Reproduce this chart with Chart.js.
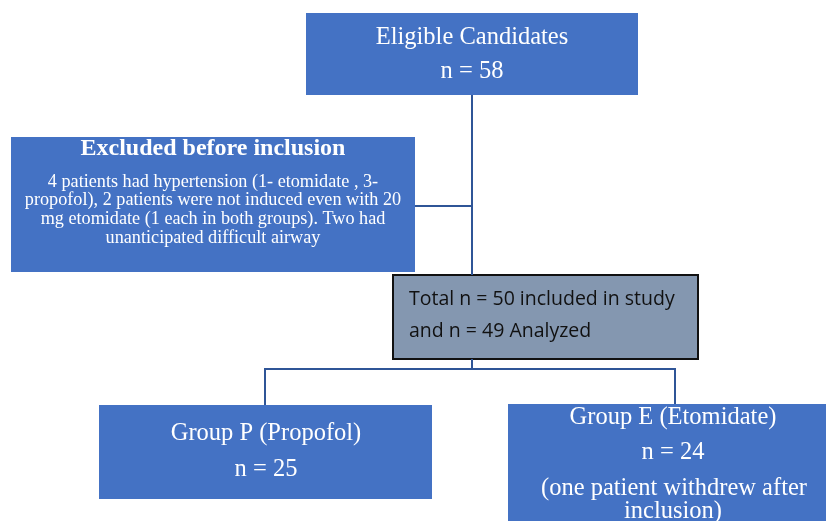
<!DOCTYPE html>
<html>
<head>
<meta charset="utf-8">
<script src="https://cdn.jsdelivr.net/npm/chart.js@4"></script>
<style>
  html, body { margin: 0; padding: 0; background: #fff; }
  #wrap { width: 826px; height: 521px; position: relative; }
</style>
</head>
<body>
<div id="wrap"><canvas id="flow"></canvas></div>
<script>
// node texts
const nodeTitles = ["Eligible Candidates", "Excluded before inclusion", "Total n = 50 included in study", "Group P (Propofol)", "Group E (Etomidate)"]
const nodeLines = [
  ["n = 58"],
  ["4 patients had hypertension (1- etomidate , 3-", "propofol), 2 patients were not induced even with 20", "mg etomidate (1 each in both groups). Two had", "unanticipated difficult airway"],
  ["and n = 49 Analyzed"],
  ["n = 25"],
  ["n = 24", "(one patient withdrew after", "inclusion)"]
]

// node layout in diagram units (left, top, right, bottom)
const nodeBoxes = [
  [306, 13, 638, 95],
  [11, 137, 415, 272],
  [393, 275, 698, 359],
  [99, 405, 432, 499],
  [508, 404, 840, 540]
]

// connectors as polylines
const links = [
  [{x: 472, y: 95}, {x: 472, y: 275}],
  [{x: 415, y: 206}, {x: 472, y: 206}],
  [{x: 472, y: 359}, {x: 472, y: 369}],
  [{x: 265, y: 405}, {x: 265, y: 369}, {x: 675, y: 369}, {x: 675, y: 404}]
]

const blue = "#4472C4"
const grey = "#8497B0"
const linkColor = "#2F5597"

const boxesPlugin = {
  id: "boxes",
  beforeDatasetsDraw(chart) {
    const { ctx, scales: { x, y } } = chart
    ctx.save()
    nodeBoxes.forEach((b, i) => {
      const l = x.getPixelForValue(b[0]), t = y.getPixelForValue(b[1])
      const r = x.getPixelForValue(b[2]), btm = y.getPixelForValue(b[3])
      ctx.fillStyle = i === 2 ? grey : blue
      ctx.fillRect(l, t, r - l, btm - t)
      if (i === 2) {
        ctx.strokeStyle = "#111"
        ctx.lineWidth = 2
        ctx.strokeRect(l, t, r - l, btm - t)
      }
    })
    ctx.restore()
  },
  afterDatasetsDraw(chart) {
    const { ctx, scales: { x, y } } = chart
    ctx.save()
    ctx.textBaseline = "middle"
    const px = v => x.getPixelForValue(v)
    const py = v => y.getPixelForValue(v)
    const serif = "'Liberation Serif', 'Times New Roman', serif"

    // Eligible
    ctx.fillStyle = "#fff"
    ctx.textAlign = "center"
    ctx.font = "24.5px " + serif
    ctx.fillText(nodeTitles[0], px(472), py(38))
    ctx.fillText(nodeLines[0][0], px(472), py(72))

    // Excluded
    ctx.font = "bold 24px " + serif
    ctx.fillText(nodeTitles[1], px(213), py(149))
    ctx.font = "18.2px " + serif
    const exY = [182, 200, 219, 238]
    nodeLines[1].forEach((s, k) => ctx.fillText(s, px(213), py(exY[k])))

    // Total
    ctx.fillStyle = "#111"
    ctx.textAlign = "left"
    ctx.font = "19.5px 'Open Sans', 'Liberation Sans', sans-serif"
    ctx.fillText(nodeTitles[2], px(409), py(299))
    ctx.fillText(nodeLines[2][0], px(409), py(331))

    // Group P
    ctx.fillStyle = "#fff"
    ctx.textAlign = "center"
    ctx.font = "24.5px " + serif
    ctx.fillText(nodeTitles[3], px(266), py(434))
    ctx.fillText(nodeLines[3][0], px(266), py(470))

    // Group E
    ctx.fillText(nodeTitles[4], px(673), py(418))
    ctx.fillText(nodeLines[4][0], px(673), py(453))
    ctx.fillText(nodeLines[4][1], px(674), py(489))
    ctx.fillText(nodeLines[4][2], px(673), py(512))
    ctx.restore()
  }
}

new Chart(document.getElementById("flow"), {
  type: "scatter",
  data: {
    datasets: links.map(pts => ({
      data: pts,
      showLine: true,
      borderColor: linkColor,
      borderWidth: 2,
      pointRadius: 0,
      tension: 0
    }))
  },
  options: {
    responsive: true,
    maintainAspectRatio: false,
    animation: false,
    layout: { padding: 0 },
    scales: {
      x: { type: "linear", min: 0, max: 826, display: false },
      y: { type: "linear", min: 0, max: 521, reverse: true, display: false }
    },
    plugins: {
      legend: { display: false },
      tooltip: { enabled: false }
    }
  },
  plugins: [boxesPlugin]
})
</script>
</body>
</html>
